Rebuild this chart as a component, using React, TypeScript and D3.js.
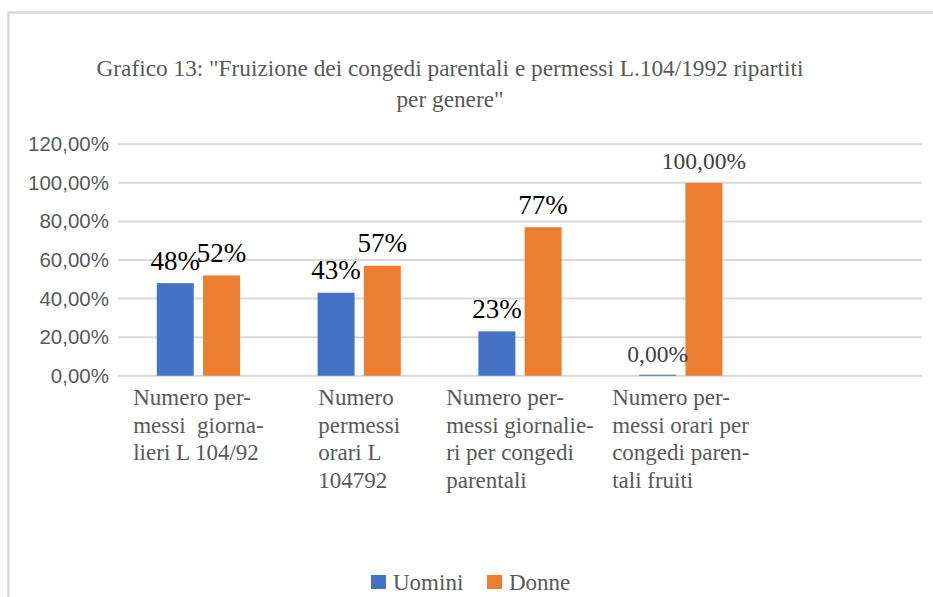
import React, { useEffect, useRef } from "react";
import * as d3 from "d3";

const categories: string[][] = [
  ["Numero per-", "messi  giorna-", "lieri L 104/92"],
  ["Numero", "permessi", "orari L", "104792"],
  ["Numero per-", "messi giornalie-", "ri per congedi", "parentali"],
  ["Numero per-", "messi orari per", "congedi paren-", "tali fruiti"],
  [],
];
const categoryKeys = ["c1", "c2", "c3", "c4", "c5"];
const series = ["Uomini", "Donne"];
const uomini = [48, 43, 23, 0];
const donne = [52, 57, 77, 100];
const uominiLabels = ["48%", "43%", "23%", "0,00%"];
const donneLabels = ["52%", "57%", "77%", "100,00%"];
const yTicks = [0, 20, 40, 60, 80, 100, 120];
const yTickLabels = ["0,00%", "20,00%", "40,00%", "60,00%", "80,00%", "100,00%", "120,00%"];
const titleLines = [
  'Grafico 13: "Fruizione dei congedi parentali e permessi L.104/1992 ripartiti',
  'per genere"',
];

const COLORS = ["#4472C4", "#ED7D31"];
const SERIF =
  '"Liberation Serif", "Times New Roman", Tinos, Times, "Noto Serif", "DejaVu Serif", serif';
const SANS = '"Liberation Sans", Arial, sans-serif';

export default function App() {
  const ref = useRef<SVGSVGElement>(null);

  useEffect(() => {
    const svg = d3.select(ref.current);
    svg.selectAll("*").remove();

    const left = 118, right = 922, top = 144.3, bottom = 375.7;

    // border
    svg.append("rect")
      .attr("x", 8.5).attr("y", 12.5).attr("width", 1000).attr("height", 1000)
      .attr("fill", "white").attr("stroke", "#D9D9D9").attr("stroke-width", 2.5);

    // title
    const title = svg.append("text")
      .style("font-family", SERIF).attr("font-size", 23.3).attr("fill", "#595959")
      .attr("text-anchor", "middle");
    titleLines.forEach((t, i) => {
      title.append("tspan").attr("x", 450).attr("y", 76 + i * 31).text(t);
    });

    const x0 = d3.scaleBand().domain(categoryKeys).range([left, right]).padding(0);
    const y = d3.scaleLinear().domain([0, 120]).range([bottom, top]);
    const xCenter = (i: number) => (x0(categoryKeys[i]) as number) + x0.bandwidth() / 2;
    const groupHalf = 41.6;
    const x1 = d3.scaleBand().domain(series).range([-groupHalf, groupHalf]).paddingInner(0.2);

    // gridlines
    svg.append("g").selectAll("line").data(yTicks).join("line")
      .attr("x1", left).attr("x2", right)
      .attr("y1", (d) => y(d)).attr("y2", (d) => y(d))
      .attr("stroke", "#D9D9D9").attr("stroke-width", 2);

    // y labels
    svg.append("g").selectAll("text").data(yTicks).join("text")
      .attr("x", 109).attr("y", (d) => y(d) + 7)
      .attr("text-anchor", "end").style("font-family", SANS).attr("font-size", 20.5)
      .attr("fill", "#595959")
      .text((_, i) => yTickLabels[i]);

    // bars
    const data = [uomini, donne];
    const labels = [uominiLabels, donneLabels];
    data.forEach((vals, s) => {
      const g = svg.append("g");
      vals.forEach((v, i) => {
        const bx = xCenter(i) + (x1(series[s]) as number);
        const h = Math.max(1, y(0) - y(v));
        g.append("rect")
          .attr("x", bx).attr("y", y(0) - h)
          .attr("width", x1.bandwidth()).attr("height", h)
          .attr("fill", COLORS[s]);
      });
    });
    // data labels
    data.forEach((vals, s) => {
      vals.forEach((v, i) => {
        const cx = xCenter(i) + (x1(series[s]) as number) + x1.bandwidth() / 2;
        const lab = labels[s][i];
        const small = lab.includes(",");
        svg.append("text")
          .attr("x", cx).attr("y", y(v) - 13.5)
          .attr("text-anchor", "middle").style("font-family", SERIF)
          .attr("font-size", small ? 23.5 : 27)
          .attr("fill", small ? "#404040" : "#000000")
          .text(lab);
      });
    });

    // category labels
    categories.forEach((lines, i) => {
      if (!lines.length) return;
      const t = svg.append("text")
        .style("font-family", SERIF).attr("font-size", 23).attr("fill", "#595959")
        .style("white-space", "pre");
      const spans = lines.map((l, k) =>
        t.append("tspan").attr("y", 405 + k * 27.7).text(l)
      );
      const maxW = d3.max(spans, (sp) => (sp.node() as SVGTSpanElement).getComputedTextLength()) || 0;
      const lx = xCenter(i) - maxW / 2;
      spans.forEach((sp) => sp.attr("x", lx));
    });

    // legend
    const legendX = [371, 487];
    series.forEach((s, i) => {
      svg.append("rect").attr("x", legendX[i]).attr("y", 575)
        .attr("width", 15).attr("height", 14).attr("fill", COLORS[i]);
      svg.append("text").attr("x", legendX[i] + 22).attr("y", 590)
        .style("font-family", SERIF).attr("font-size", 23).attr("fill", "#595959")
        .text(s);
    });
  }, []);

  return (
    <svg
      ref={ref}
      width={933}
      height={597}
      style={{ position: "fixed", left: 0, top: 0, background: "white" }}
    />
  );
}
